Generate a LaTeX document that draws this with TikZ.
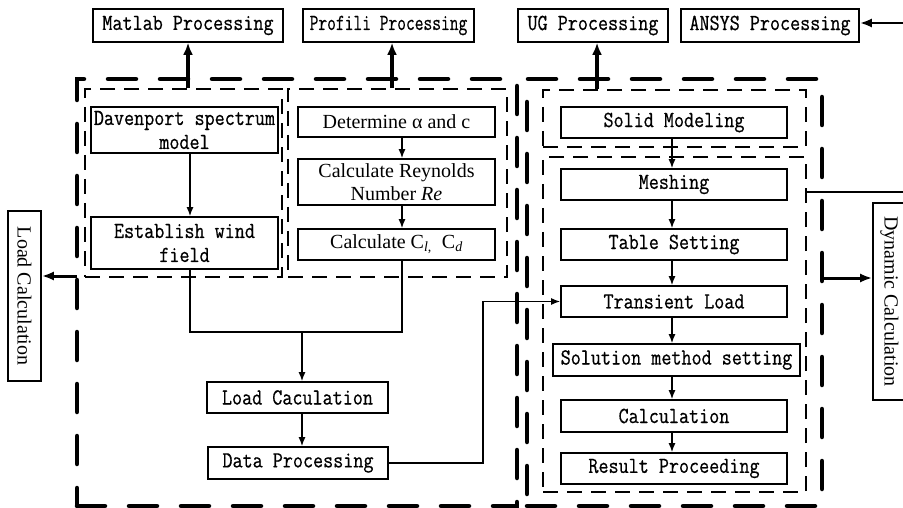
\documentclass[tikz,border=0pt]{standalone}
\usepackage{fontspec}
\usepackage{graphicx}
\setmainfont{Liberation Serif}
\newfontfamily\simfont[FakeStretch=0.85,FakeBold=0.6]{Latin Modern Mono}
\usetikzlibrary{arrows.meta,calc}
\begin{document}
\begin{tikzpicture}[x=1pt,y=-1pt,
 box/.style={draw, line width=1.6pt, inner sep=0pt, align=center, fill=white},
 mono/.style={font=\simfont\fontsize{23}{24}\selectfont},
 serif/.style={font=\fontsize{20}{23}\selectfont},
 arr/.style={line width=1.5pt, -{Latex[length=9pt,width=7pt]}},
 bigarr/.style={line width=3.2pt, -{Latex[length=12pt,width=10pt]}},
 conn/.style={line width=1.5pt},
 thindash/.style={draw, line width=1.6pt, dash pattern=on 15pt off 9pt, inner sep=0pt},
 thickdash/.style={draw, line width=4.5pt, dash pattern=on 28pt off 24pt, line cap=round, inner sep=0pt},
]
\useasboundingbox (0,0) rectangle (903,508);

% outer thick dashed frames
\node[thickdash, minimum width=440pt, minimum height=427pt] (outerL) at (297,292.5) {};
\node[thickdash, minimum width=295pt, minimum height=427pt] (outerR) at (674.5,292.5) {};

% inner thin dashed frames
\node[thindash, minimum width=197pt, minimum height=188pt] (boxA) at (183.5,183) {};
\node[thindash, minimum width=219pt, minimum height=188pt] (boxB) at (397.5,183) {};
\node[thindash, minimum width=263pt, minimum height=57pt] (boxC) at (674.5,118.5) {};
\node[thindash, minimum width=263pt, minimum height=335pt] (boxD) at (674.5,324.5) {};

% top boxes
\node[box, mono, minimum width=190pt, minimum height=33pt] (matlab) at (188,25.5) {Matlab Processing};
\node[box, mono, minimum width=171pt, minimum height=33pt] (profili) at (388.5,25.5) {\scalebox{0.87}[1]{Profili Processing}};
\node[box, mono, minimum width=150pt, minimum height=33pt] (ug) at (593,25.5) {UG Processing};
\node[box, mono, minimum width=178pt, minimum height=33pt] (ansys) at (770,25.5) {ANSYS Processing};

% left group
\node[box, mono, minimum width=187pt, minimum height=46pt] (dav) at (184.5,130) {Davenport spectrum\\model};
\node[box, mono, minimum width=187pt, minimum height=52pt] (wind) at (184.5,243) {Establish wind\\field};

\node[box, serif, minimum width=197pt, minimum height=30pt] (det) at (396.5,122) {Determine α and c};
\node[box, serif, minimum width=197pt, minimum height=46pt] (rey) at (396.5,182) {Calculate Reynolds\\Number \textit{Re}};
\node[box, serif, minimum width=197pt, minimum height=31pt] (cl) at (396.5,244.5) {Calculate C\textsubscript{\textit{l},}\ \ C\textsubscript{\textit{d}}};

\node[box, mono, minimum width=181pt, minimum height=31pt] (lcac) at (297.5,397.5) {Load Caculation};
\node[box, mono, minimum width=180pt, minimum height=32pt] (datap) at (298,463) {Data Processing};

% right group
\node[box, mono, minimum width=226pt, minimum height=31pt] (solid) at (674,122.5) {Solid Modeling};
\node[box, mono, minimum width=226pt, minimum height=31pt] (mesh) at (674,184.5) {Meshing};
\node[box, mono, minimum width=226pt, minimum height=31pt] (table) at (674,244.5) {Table Setting};
\node[box, mono, minimum width=226pt, minimum height=31pt] (trans) at (674,301.5) {Transient Load};
\node[box, mono, minimum width=247pt, minimum height=32pt] (sol) at (676.5,360) {Solution method setting};
\node[box, mono, minimum width=226pt, minimum height=32pt] (calc) at (674,416) {Calculation};
\node[box, mono, minimum width=226pt, minimum height=31pt] (res) at (674,468.5) {Result Proceeding};

% side boxes
\node[box, serif, minimum width=33pt, minimum height=170pt] (loadcalc) at (24.5,296) {\rotatebox{-90}{Load Calculation}};
\node[box, serif, minimum width=33pt, minimum height=197pt] (dyn) at (889.5,301.5) {\rotatebox{-90}{Dynamic Calculation}};

% helper coordinates
\coordinate (xa) at (190,0);
\coordinate (xb) at (402,0);
\coordinate (xc) at (302,0);
\coordinate (xd) at (672,0);
\coordinate (xp) at (392,0);
\coordinate (xu) at (597,0);
\coordinate (join) at (302,332);
\coordinate (ansysin) at (903,23);
\coordinate (lcout) at (77,276);
\coordinate (dynout) at (822,278);
\coordinate (dynline) at (903,192);

% left group connectors
\draw[arr] (dav.south -| xa) -- (wind.north -| xa);
\draw[arr] (det.south -| xb) -- (rey.north -| xb);
\draw[arr] (rey.south -| xb) -- (cl.north -| xb);
\draw[conn] (wind.south -| xa) |- (join) -| (cl.south -| xb);
\draw[arr] (join) -- (lcac.north -| xc);
\draw[arr] (lcac.south -| xc) -- (datap.north -| xc);
\draw[arr] (datap.east) -- ++(94,0) |- (trans.west);

% right group connectors
\draw[arr] (solid.south -| xd) -- (mesh.north -| xd);
\draw[arr] (mesh.south -| xd) -- (table.north -| xd);
\draw[arr] (table.south -| xd) -- (trans.north -| xd);
\draw[arr] (trans.south -| xd) -- (sol.north -| xd);
\draw[arr] (sol.south -| xd) -- (calc.north -| xd);
\draw[arr] (calc.south -| xd) -- (res.north -| xd);

% thick arrows to top boxes
\draw[bigarr] (boxA.north -| matlab.south) -- (matlab.south);
\draw[bigarr] (boxB.north -| xp) -- (profili.south -| xp);
\draw[bigarr] (boxC.north -| xu) -- (ug.south -| xu);
\draw[line width=2.8pt, -{Latex[length=12pt,width=9pt]}] (ansysin) -- (ansys.east |- ansysin);

% side arrows
\draw[line width=3pt, -{Latex[length=12pt,width=9pt]}] (lcout) -- (lcout -| loadcalc.east);
\draw[line width=3pt, -{Latex[length=12pt,width=9pt]}] (dynout) -- (dynout -| dyn.west);
\draw[conn] (boxD.east |- dynline) -- (dynline);
\end{tikzpicture}
\end{document}
